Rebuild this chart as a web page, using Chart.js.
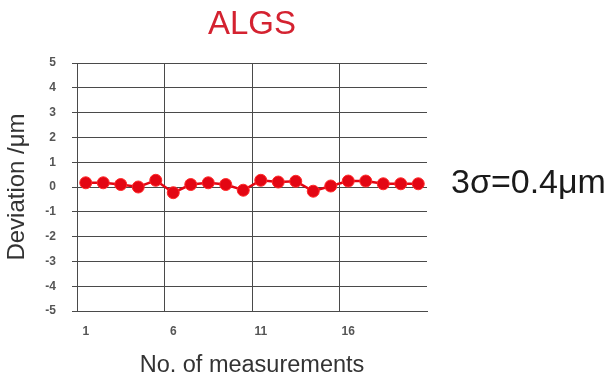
<!DOCTYPE html>
<html>
<head>
<meta charset="utf-8">
<script src="https://cdn.jsdelivr.net/npm/chart.js@4"></script>
<style>
  html, body { margin: 0; padding: 0; background: #fff; }
  #wrap { width: 616px; height: 376px; }
</style>
</head>
<body>
<div id="wrap"><canvas id="devChart" width="616" height="376"></canvas></div>
<script>
const measurements = Array.from({ length: 20 }, (_, i) => String(i + 1));
const deviation = [0.17, 0.17, 0.1, 0.0, 0.27, -0.23, 0.1, 0.17, 0.1, -0.13,
                   0.27, 0.2, 0.23, -0.17, 0.04, 0.24, 0.24, 0.13, 0.13, 0.13];
const yTicks = [-5, -4, -3, -2, -1, 0, 1, 2, 3, 4, 5];
const chartTitle = 'ALGS';
const sigmaLabel = '3\u03c3=0.4\u03bcm';

const RED = '#e30613';
const GRID = '#4a4a4a';
const SANS = '"Liberation Sans", Arial, sans-serif';

// title centred over the plot area + side note to the right
const extraText = {
    id: 'extraText',
    afterDraw(chart) {
        const c = chart.ctx;
        const a = chart.chartArea;
        c.save();
        c.font = '33px ' + SANS;
        c.fillStyle = '#d42230';
        c.textAlign = 'center';
        c.textBaseline = 'alphabetic';
        c.fillText(chartTitle, (a.left + a.right) / 2, 34);

        c.font = '34px ' + SANS;
        c.fillStyle = '#1a1a1a';
        c.textAlign = 'left';
        c.fillText(sigmaLabel, 451, 193);
        c.restore();
    }
};

document.addEventListener('DOMContentLoaded', () => {
    const ctx = document.getElementById('devChart').getContext('2d');
    new Chart(ctx, {
        type: 'line',
        data: {
            labels: measurements,
            datasets: [{
                data: deviation,
                borderColor: RED,
                borderWidth: 2.5,
                backgroundColor: RED,
                pointBackgroundColor: RED,
                pointBorderColor: '#ff2a2a',
                pointBorderWidth: 1,
                pointRadius: 6,
                tension: 0
            }]
        },
        options: {
            responsive: false,
            animation: false,
            layout: { padding: { left: 0, right: 189, top: 63, bottom: 0 } },
            plugins: {
                legend: { display: false },
                tooltip: { enabled: false },
                title: { display: false }
            },
            scales: {
                x: {
                    type: 'category',
                    offset: true,
                    afterFit: (s) => { s.height = 65; },
                    grid: {
                        offset: true,
                        drawTicks: false,
                        color: (c) => (c.index % 5 === 0 ? GRID : 'rgba(0,0,0,0)'),
                        lineWidth: 1
                    },
                    border: { color: GRID, width: 1 },
                    ticks: {
                        autoSkip: false,
                        maxRotation: 0,
                        padding: 13,
                        color: '#555',
                        font: { family: SANS, size: 12, weight: 'bold' },
                        callback: (v, i) => (i % 5 === 0 ? measurements[i] : '')
                    },
                    title: {
                        display: true,
                        text: 'No. of measurements',
                        color: '#333',
                        font: { family: SANS, size: 23.5, lineHeight: 1 },
                        padding: { top: 0, bottom: -1 }
                    }
                },
                y: {
                    min: -5,
                    max: 5,
                    afterFit: (s) => { s.width = 77; },
                    afterBuildTicks: (s) => { s.ticks = yTicks.map(v => ({ value: v })); },
                    grid: {
                        color: GRID,
                        lineWidth: 1,
                        tickLength: 5
                    },
                    border: { color: GRID, width: 1 },
                    ticks: {
                        padding: 16,
                        color: '#555',
                        font: { family: SANS, size: 12, weight: 'bold' }
                    },
                    title: {
                        display: true,
                        text: 'Deviation /\u03bcm',
                        color: '#333',
                        font: { family: SANS, size: 24, lineHeight: 1 },
                        padding: { top: 5, bottom: 0 }
                    }
                }
            }
        },
        plugins: [extraText]
    });
});
</script>
</body>
</html>
